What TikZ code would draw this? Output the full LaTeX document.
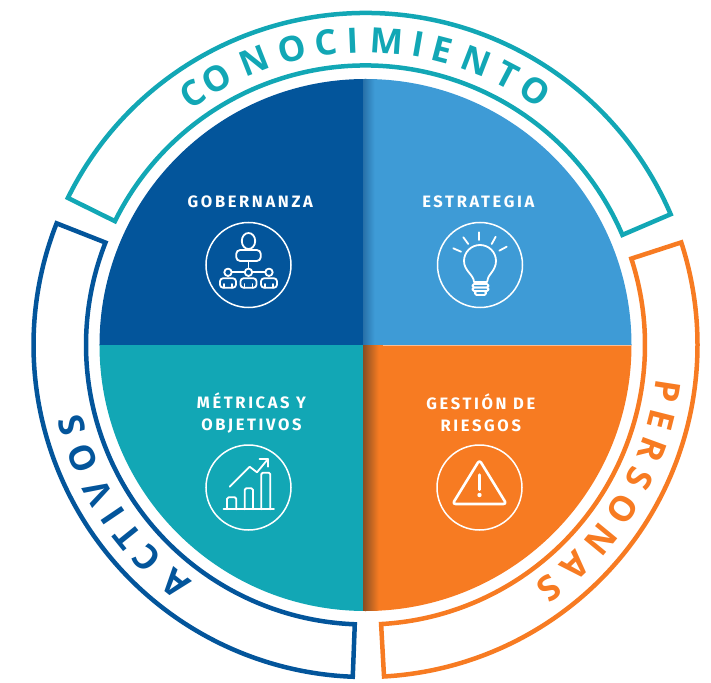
\documentclass[tikz,border=0pt]{standalone}
\usepackage{fontspec}
\newfontfamily\bandfont{Open Sans}
\newfontfamily\quadfont[LetterSpace=16]{Fira Sans}
\definecolor{govblue}{HTML}{03559B}
\definecolor{stratblue}{HTML}{3E9BD6}
\definecolor{metricteal}{HTML}{12A7B5}
\definecolor{riskorange}{HTML}{F77B22}
\tikzset{
  bandline/.style={line width=4.5pt,miter limit=10},
  bandletter/.style={inner sep=0pt,text height=25pt,text depth=0pt,font=\bandfont\bfseries\fontsize{35}{35}\selectfont},
  quadlabel/.style={inner sep=0pt,text=white,align=center,font=\quadfont\bfseries\fontsize{16.5}{21.5}\selectfont},
  iconring/.style={draw=white,line width=1.5pt,inner sep=0pt,minimum size=85pt,circle},
  iconline/.style={draw=white,line width=1.8pt,line cap=round,line join=round},
}
\begin{document}
\begin{tikzpicture}[x=1pt,y=1pt]
    \useasboundingbox (-365.5,-337) rectangle (345.5,345);
    % quadrants
    \begin{scope}
    \clip (0,0) circle (266);
    \fill[govblue] (-270,-0.5) rectangle (-2.5,270);
    \fill[stratblue] (-2.5,-0.5) rectangle (270,270);
    \fill[metricteal] (-270,-270) rectangle (-2.5,-0.5);
    \fill[riskorange] (-2.5,-270) rectangle (270,-0.5);
    \shade[left color=govblue!65!stratblue!85!gray,right color=stratblue] (-2.5,-0.5) rectangle (9,270);
    \shade[left color=riskorange!55!black!85!gray,right color=riskorange] (-2.5,-270) rectangle (13,-0.5);
    \draw[white,opacity=.5,line width=.8pt] (17,-0.5) -- (270,-0.5);
    \end{scope}
    % bands
    \draw[bandline,metricteal] (153.7:332) arc (153.7:23.2:332) -- (23.2:279.5) arc (23.2:153.7:279.5) -- cycle;
    \draw[bandline,riskorange] (18:332) arc (18:-86.8:332) -- (-86.8:279.5) arc (-86.8:18:279.5) -- cycle;
    \draw[bandline,govblue] (158.5:332) arc (158.5:267.8:332) -- (267.8:279.5) arc (267.8:158.5:279.5) -- cycle;
    % band letters
    \foreach \ch/\ang [count=\i] in {C/124.5,O/119.2,N/111.4,O/104,C/97.4,I/92.4,M/86,I/80.1,E/75.4,N/68.8,T/62.4,O/56.3}
    {\node[bandletter,text=metricteal,rotate=\ang-90] (con\i) at (\ang:305) {\ch};}
    \foreach \ch/\ang [count=\i] in {P/-8.8,E/-14.2,R/-20.1,S/-26,O/-32.6,N/-39.5,A/-46.4,S/-53}
    {\node[bandletter,text=riskorange,rotate=\ang-90] (per\i) at (\ang:305) {\ch};}
    \foreach \ch/\ang [count=\i] in {A/231.4,C/224.3,T/218.8,I/214.1,V/208.9,O/201.8,S/195.4}
    {\node[bandletter,text=govblue,rotate=\ang-90] (act\i) at (\ang:305) {\ch};}
    % labels
    \node[quadlabel] (gob) at (-115.2,143) {GOBERNANZA};
    \node[quadlabel] (est) at (112.8,143) {ESTRATEGIA};
    \node[quadlabel] (met) at (-114,-68) {MÉTRICAS Y\\OBJETIVOS};
    \node[quadlabel] (rie) at (115.3,-68) {GESTIÓN DE\\RIESGOS};
    % rings
    \node[iconring] (gobring) at (-117,80) {};
    \node[iconring] (estring) at (114.5,80) {};
    \node[iconring] (metring) at (-117,-142.5) {};
    \node[iconring] (riering) at (114,-142.5) {};
    % people
    \begin{scope}[shift={(gobring.center)},iconline]
    \draw (0,24) ellipse (6.7 and 8);
    \draw[rounded corners=4pt] (-12.3,4) -- (-12.3,15) -- (12.3,15) -- (12.3,4) -- cycle;
    \draw (0,4) -- (0,-3.5);
    \draw (-16.8,-7.3) -- (-3.7,-7.3) (3.7,-7.3) -- (16.8,-7.3);
    \foreach \x in {-20.5,0,20.5}
    {\draw (\x,-7.3) circle (3.7);
    \draw[rounded corners=3pt] (\x-8,-22.7) -- (\x-8,-13.3) -- (\x+8,-13.3) -- (\x+8,-22.7) -- cycle;
    \draw (\x-4,-22.7) -- (\x-4,-19) (\x+4,-22.7) -- (\x+4,-19);}
    \end{scope}
    % bulb
    \begin{scope}[shift={(estring.center)},iconline]
    \draw (-1,32.7) -- (-1,25);
    \draw (-16.7,27.7) -- (-11.7,21);
    \draw (15.7,28.3) -- (11.7,21);
    \draw (-26.7,16.7) -- (-19,13.3);
    \draw (26.7,18.3) -- (19.3,14.3);
    \draw (-6,-17) .. controls (-6,-10) and (-16,-6) .. (-16,4) arc (180:0:16) .. controls (16,-6) and (7,-10) .. (7,-17) -- cycle;
    \draw[rounded corners=1.5pt] (-7.5,-19) rectangle (8.5,-22.5);
    \draw[rounded corners=1.5pt] (-7.5,-22.5) rectangle (8.5,-26);
    \draw[rounded corners=1.5pt] (-5,-26) rectangle (6,-30);
    \end{scope}
    % chart
    \begin{scope}[shift={(metring.center)},iconline]
    \draw (-25,-21.8) -- (25.5,-21.8);
    \draw[rounded corners=1.5pt] (-21.5,-21.8) -- (-21.5,-9.8) -- (-12.2,-9.8) -- (-12.2,-21.8);
    \draw[rounded corners=1.5pt] (-3.8,-21.8) -- (-3.8,-0.8) -- (4.5,-0.8) -- (4.5,-21.8);
    \draw[rounded corners=1.5pt] (12.8,-21.8) -- (12.8,14.8) -- (21.8,14.8) -- (21.8,-21.8);
    \draw (-18.8,0.8) -- (1.2,20.8) -- (8.5,15.2) -- (19.5,28.5);
    \draw (11,28.5) -- (19.5,28.5) -- (19.5,20.8);
    \end{scope}
    % warning
    \begin{scope}[shift={(riering.center)},iconline]
    \draw[line width=2.6pt,rounded corners=3pt] (0,27.5) -- (-27,-16.5) -- (27,-16.5) -- cycle;
    \draw[line width=3.2pt] (0,12.5) -- (0,-2);
    \fill[white] (0,-7.5) circle (2.2);
    \end{scope}
\end{tikzpicture}
\end{document}
